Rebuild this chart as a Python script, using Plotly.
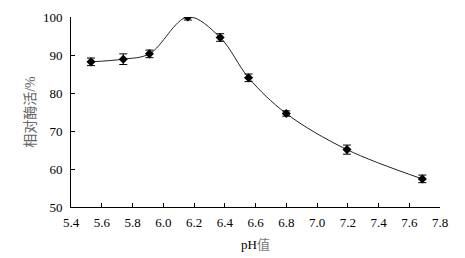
import plotly.graph_objects as go

ph = [5.53, 5.74, 5.91, 6.16, 6.37, 6.555, 6.80, 7.195, 7.685]
activity = [88.2, 88.9, 90.3, 100.0, 94.6, 84.0, 74.6, 65.1, 57.4]
err = [1.0, 1.4, 1.0, 0.8, 1.0, 1.0, 0.7, 1.2, 1.0]

x_ticks = [5.4, 5.6, 5.8, 6.0, 6.2, 6.4, 6.6, 6.8, 7.0, 7.2, 7.4, 7.6, 7.8]
y_ticks = [50, 60, 70, 80, 90, 100]

font_family = "Liberation Serif, Noto Sans CJK SC, serif"

fig = go.Figure()
fig.add_trace(go.Scatter(
    x=ph, y=activity, mode="lines",
    line=dict(color="#222222", width=1, shape="spline", smoothing=1.0),
    hoverinfo="skip", showlegend=False,
))
fig.add_trace(go.Scatter(
    x=ph, y=activity, mode="markers",
    marker=dict(symbol="diamond", size=7, color="black"),
    error_y=dict(type="data", array=err, visible=True, color="black", thickness=1, width=4),
    showlegend=False,
))

fig.update_layout(
    width=465, height=258,
    margin=dict(l=71, r=25, t=17, b=51, autoexpand=False),
    paper_bgcolor="white", plot_bgcolor="white",
    font=dict(family=font_family, size=13, color="black"),
    xaxis=dict(
        range=[5.4, 7.8], tickvals=x_ticks, ticktext=[f"{v:.1f}" for v in x_ticks],
        showline=True, linecolor="black", linewidth=1, ticks="inside", ticklen=4,
        tickcolor="black", showgrid=False, zeroline=False, ticklabelstandoff=3,
        automargin=False,
        title=dict(text="pH<span style='color:#777'>值</span>", font=dict(size=13), standoff=11),
    ),
    yaxis=dict(
        range=[50, 100], tickvals=y_ticks,
        showline=True, linecolor="black", linewidth=1, ticks="inside", ticklen=4,
        tickcolor="black", showgrid=False, zeroline=False, ticklabelstandoff=5,
        automargin=False,
        title=dict(text="相对酶活/%", font=dict(size=14, color="#666666"), standoff=4),
    ),
)

fig.write_html(
    "out.html",
    config={"displayModeBar": False},
    post_script="document.body.style.margin='0';document.body.style.overflow='hidden';",
)
